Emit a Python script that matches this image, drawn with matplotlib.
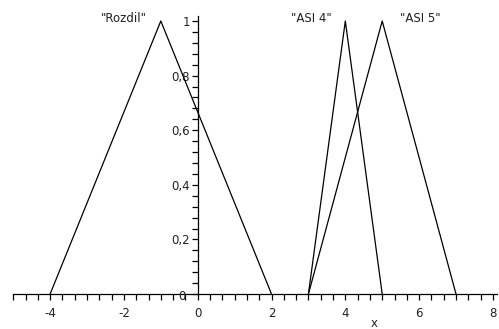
import numpy as np
import matplotlib
matplotlib.use("Agg")
import matplotlib.pyplot as plt
from matplotlib.ticker import FixedLocator

# membership functions (triangles)
rozdil_x = [-4, -1, 2]
rozdil_y = [0, 1, 0]
asi4_x = [3, 4, 5]
asi4_y = [0, 1, 0]
asi5_x = [3, 5, 7]
asi5_y = [0, 1, 0]

xticks = [-4, -2, 0, 2, 4, 6, 8]
yticks = [0.2, 0.4, 0.6, 0.8, 1]
ylabels = ["0,2", "0,4", "0,6", "0,8", "1"]

plt.rcParams['font.family'] = ['DejaVu Sans']
fs = 8.5
tc = '#222222'

fig = plt.figure(figsize=(4.99, 3.29), dpi=100)
ax = fig.add_axes([0, 0, 1, 1])

ax.plot(rozdil_x, rozdil_y, color='black', lw=0.9)
ax.plot(asi4_x, asi4_y, color='black', lw=0.9)
ax.plot(asi5_x, asi5_y, color='black', lw=0.9)

ax.set_xlim(-5.358, 8.165)
ax.set_ylim(-0.128, 1.077)

for s in ['top', 'right']:
    ax.spines[s].set_visible(False)
ax.spines['left'].set_position(('data', 0))
ax.spines['bottom'].set_position(('data', 0))
ax.spines['left'].set_bounds(0, 1.02)
ax.spines['bottom'].set_bounds(-5, 8.1)
ax.spines['left'].set_linewidth(0.9)
ax.spines['bottom'].set_linewidth(0.9)

ax.xaxis.set_major_locator(FixedLocator(xticks))
ax.xaxis.set_minor_locator(FixedLocator(np.arange(-5, 8.01, 1/3)))
ax.yaxis.set_major_locator(FixedLocator(yticks))
ax.yaxis.set_minor_locator(FixedLocator(np.arange(0, 1.001, 0.04)))
ax.set_xticklabels([str(t) for t in xticks])
ax.set_yticklabels(ylabels)
ax.tick_params(which='both', direction='out', length=4.5, width=0.9,
               labelsize=fs, labelcolor=tc)
ax.tick_params(axis='x', pad=5)
ax.tick_params(axis='y', pad=1)

# "0" of the y axis sits at the origin, left of the axis
ax.text(-0.42, -0.01, "0", fontsize=fs, color=tc, ha='center', va='center')

ax.text(-1.37, 1.01, '"Rozdil"', fontsize=fs, ha='right', va='center', color=tc)
ax.text(3.63, 1.01, '"ASI 4"', fontsize=fs, ha='right', va='center', color=tc)
ax.text(5.48, 1.01, '"ASI 5"', fontsize=fs, ha='left', va='center', color=tc)
ax.text(4.78, -0.108, "x", fontsize=fs, ha='center', va='center', color=tc)

fig.savefig("out.png", dpi=100)
